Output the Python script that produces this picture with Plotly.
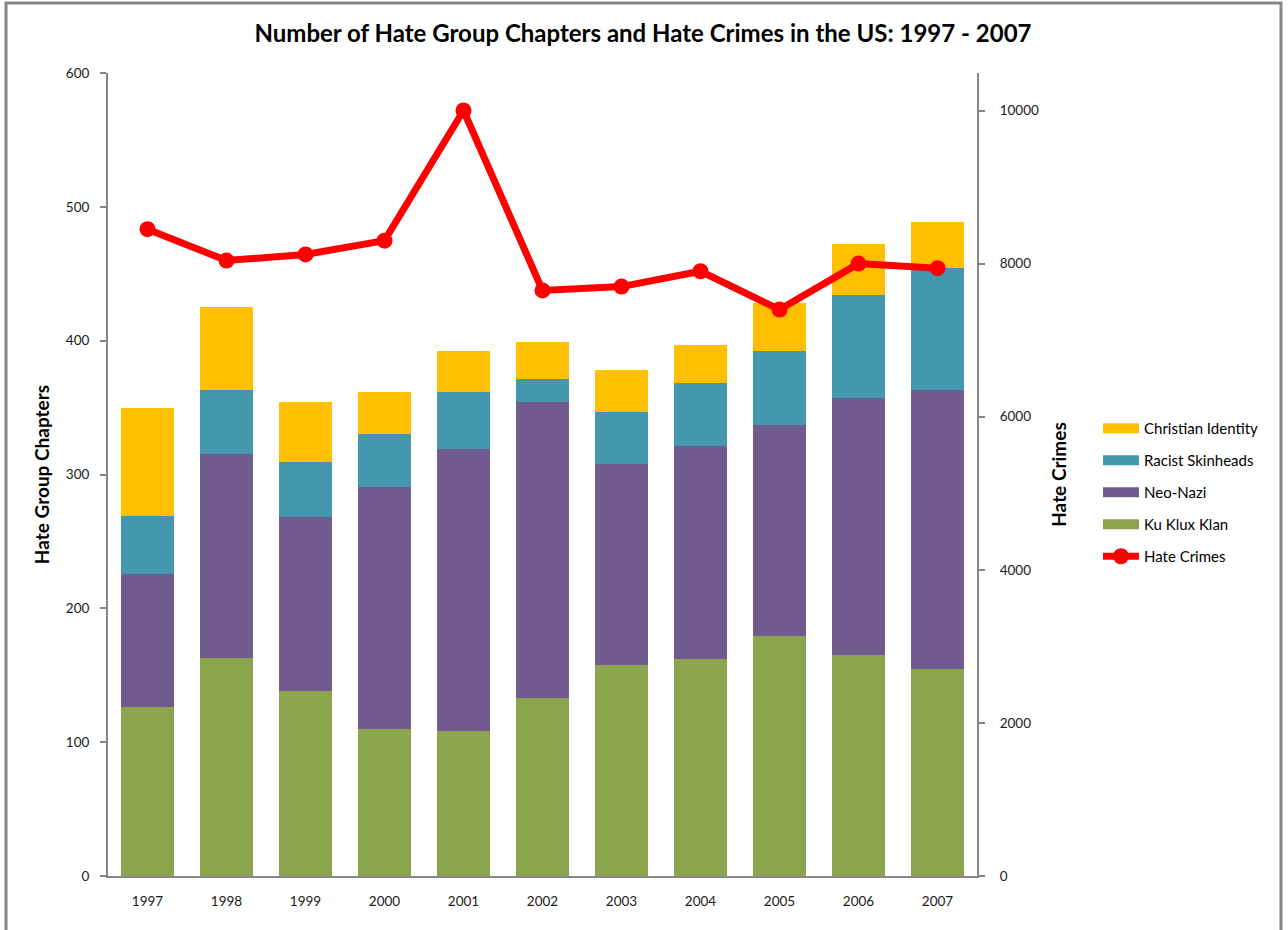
import plotly.graph_objects as go

years = ["1997", "1998", "1999", "2000", "2001", "2002", "2003", "2004", "2005", "2006", "2007"]
kkk = [126, 163, 138, 110, 108, 133, 158, 162, 179, 165, 155]
neo_nazi = [100, 152, 130, 181, 211, 221, 150, 159, 158, 192, 208]
skinheads = [43, 48, 41, 39, 43, 17, 39, 47, 55, 77, 91]
christian_identity = [81, 62, 45, 32, 30, 28, 31, 29, 36, 38, 35]
hate_crimes = [8450, 8040, 8120, 8300, 10000, 7650, 7700, 7900, 7400, 8000, 7940]

FONT = "Lato, Open Sans, sans-serif"
fig = go.Figure()

bars = [
    ("Ku Klux Klan", kkk, "#8BA54E", 4),
    ("Neo-Nazi", neo_nazi, "#705A8E", 3),
    ("Racist Skinheads", skinheads, "#4397AF", 2),
    ("Christian Identity", christian_identity, "#FFC000", 1),
]
for name, vals, col, rank in bars:
    fig.add_trace(go.Bar(x=years, y=vals, name=name, marker=dict(color=col, line=dict(width=0)),
                         showlegend=False, yaxis="y"))
    # legend swatch as a wide bar-like line
    fig.add_trace(go.Scatter(x=[None], y=[None], name=name, mode="lines",
                             line=dict(color=col, width=10), legendrank=rank,
                             legendgroup=name, yaxis="y"))

fig.add_trace(go.Scatter(x=years, y=hate_crimes, name="Hate Crimes", mode="lines+markers",
                         line=dict(color="#FF0000", width=7), marker=dict(color="#FF0000", size=16),
                         legendrank=5, legendgroup="hc", yaxis="y2"))

L, R, T, B = 108, 977, 73, 876
W, H = R - L, B - T

def px(p):
    return (p - L) / W

def py(p):
    return (B - p) / H

fig.update_layout(
    width=1288, height=930,
    margin=dict(l=L, r=1288 - R, t=T, b=930 - B),
    paper_bgcolor="white", plot_bgcolor="white",
    barmode="stack", bargap=0.34,
    font=dict(family=FONT, size=13.5, color="#1a1a1a"),
    title=dict(text="<b>Number of Hate Group Chapters and Hate Crimes in the US: 1997 - 2007</b>",
               x=643 / 1288, xref="container", xanchor="center", y=1 - 34 / 930,
               yref="container", yanchor="middle",
               font=dict(size=24, family=FONT, color="#000000")),
    xaxis=dict(range=[-0.5, 10.5], showline=True, linecolor="#868686", linewidth=2, ticks="",
               showgrid=False, tickfont=dict(size=13.5), ticklabelstandoff=12),
    yaxis=dict(range=[0, 600], dtick=100, showline=True, linecolor="#868686", linewidth=2,
               ticks="outside", ticklen=6, tickcolor="#868686", tickwidth=2, showgrid=False,
               zeroline=False, tickfont=dict(size=13.5), ticklabelstandoff=8,
               title=dict(text="<b>Hate Group Chapters</b>", font=dict(size=19, color="#000000"),
                          standoff=11)),
    yaxis2=dict(range=[0, 10490], dtick=2000, tickformat="d", overlaying="y", side="right",
                showline=True, linecolor="#868686", linewidth=2, ticks="outside", ticklen=6,
                tickcolor="#868686", tickwidth=2, showgrid=False, zeroline=False,
                tickfont=dict(size=13.5), ticklabelstandoff=12,
                title=dict(text="<b>Hate Crimes</b>", font=dict(size=19, color="#000000"),
                           standoff=15)),
    legend=dict(x=px(1098), y=py(412), xanchor="left", yanchor="top",
                font=dict(size=15, color="#000000"),
                tracegroupgap=9.5, bgcolor="rgba(0,0,0,0)", itemwidth=36),
    showlegend=True,
    shapes=[dict(type="rect", xref="paper", yref="paper", x0=px(6), x1=px(1281), y0=py(945),
                 y1=py(3), line=dict(color="#868686", width=3), fillcolor="rgba(0,0,0,0)",
                 layer="below")],
)

fig.write_html("out.html", config={"displayModeBar": False},
               post_script="document.body.style.margin='0';document.body.style.overflow='hidden';")
